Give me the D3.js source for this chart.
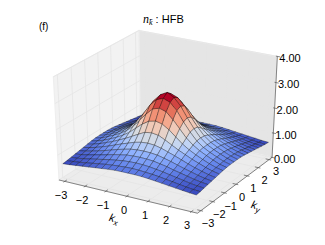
<!DOCTYPE html>
<html>
<head>
<meta charset="utf-8">
<script src="https://cdn.jsdelivr.net/npm/d3@7"></script>
<style>
body { margin: 0; background: #fff; }
text { font-family: "Liberation Sans", Arial, sans-serif; fill: #000; }
</style>
</head>
<body>
<div id="wrapper"></div>
<script>
// |k| from the centre outwards, the surface is mirrored in kx and ky
const kSteps = [0, 0.314, 0.628, 0.942, 1.257, 1.571, 1.885, 2.199, 2.513, 2.827, 3.142];
const row0 = [3.02, 2.88, 2.60, 2.20, 1.84, 1.53, 1.32, 1.18, 1.06, 0.95, 0.87];
const row1 = [2.88, 2.78, 2.52, 2.14, 1.80, 1.51, 1.31, 1.17, 1.05, 0.94, 0.87];
const row2 = [2.60, 2.52, 2.27, 1.97, 1.67, 1.45, 1.28, 1.15, 1.03, 0.92, 0.86];
const row3 = [2.20, 2.14, 1.97, 1.75, 1.53, 1.36, 1.22, 1.10, 0.99, 0.90, 0.84];
const row4 = [1.84, 1.80, 1.67, 1.53, 1.39, 1.27, 1.15, 1.05, 0.95, 0.87, 0.81];
const row5 = [1.53, 1.51, 1.45, 1.36, 1.27, 1.17, 1.07, 0.98, 0.90, 0.83, 0.78];
const row6 = [1.32, 1.31, 1.28, 1.22, 1.15, 1.07, 0.99, 0.92, 0.85, 0.79, 0.75];
const row7 = [1.18, 1.17, 1.15, 1.10, 1.05, 0.98, 0.92, 0.86, 0.80, 0.75, 0.72];
const row8 = [1.06, 1.05, 1.03, 0.99, 0.95, 0.90, 0.85, 0.80, 0.75, 0.71, 0.69];
const row9 = [0.95, 0.94, 0.92, 0.90, 0.87, 0.83, 0.79, 0.75, 0.71, 0.68, 0.66];
const row10 = [0.87, 0.87, 0.86, 0.84, 0.81, 0.78, 0.75, 0.72, 0.69, 0.66, 0.64];
const rows = [row0, row1, row2, row3, row4, row5, row6, row7, row8, row9, row10];

const kTicks = [-3, -2, -1, 0, 1, 2, 3];
const zTicks = [0, 1, 2, 3, 4];
const coolwarm = ["#3b4cc0", "#6282ea", "#8db0fe", "#c0d4f5", "#dddcdc", "#f5c4ad", "#f4987a", "#de604d", "#b40426"];

const width = 325;
const height = 245;

// Box coordinates 0..1 on each axis, the box is a bit wider than the surface
const kLimit = 3.28;
const x = d3.scaleLinear().domain([-kLimit, kLimit]).range([0, 1]);
const y = d3.scaleLinear().domain([-kLimit, kLimit]).range([0, 1]);
const z = d3.scaleLinear().domain([0, 4]).range([0, 1]);

// Same camera as mplot3d: elev 30, azim -60, dist 10
const elev = 30 * Math.PI / 180;
const azim = -60 * Math.PI / 180;
const dist = 10;
const w = [Math.cos(elev) * Math.cos(azim), Math.cos(elev) * Math.sin(azim), Math.sin(elev)];
const u = [-w[1], w[0], 0].map(d => d / Math.hypot(w[0], w[1]));
const v = [w[1] * u[2] - w[2] * u[1], w[2] * u[0] - w[0] * u[2], w[0] * u[1] - w[1] * u[0]];
const dot = (a, b) => a[0] * b[0] + a[1] * b[1] + a[2] * b[2];

const screenX = d3.scaleLinear().domain([-0.0677, 0.0656]).range([59, 272]);
const screenY = d3.scaleLinear().domain([-0.052, 0.0749]).range([180, 30.5]);

function depth(p) {
    return dist - dot(w, [p[0] - 0.5, p[1] - 0.5, p[2] - 0.5]);
}
function project(p) {
    const c = [p[0] - 0.5, p[1] - 0.5, p[2] - 0.5];
    const d = depth(p);
    return [screenX(dot(u, c) / d), screenY(dot(v, c) / d)];
}
const line3d = d3.line().x(p => project(p)[0]).y(p => project(p)[1]);

// Mirror the quadrant into the whole grid
const kValues = kSteps.slice(1).reverse().map(d => -d).concat(kSteps);
const indexOf = i => Math.abs(i - (kSteps.length - 1));
const zValue = (i, j) => rows[indexOf(i)][indexOf(j)];

const svg = d3.select("#wrapper").append("svg")
    .attr("width", width)
    .attr("height", height)
    .style("display", "block");

// Walls and floor
const panes = [
    { fill: "#f2f2f2", pts: [[0, 0, 0], [0, 1, 0], [0, 1, 1], [0, 0, 1]] },
    { fill: "#e5e5e5", pts: [[0, 1, 0], [1, 1, 0], [1, 1, 1], [0, 1, 1]] },
    { fill: "#ececec", pts: [[0, 0, 0], [1, 0, 0], [1, 1, 0], [0, 1, 0]] }
];
svg.append("g").selectAll("path")
    .data(panes)
    .join("path")
    .attr("d", d => line3d(d.pts) + "Z")
    .attr("fill", d => d.fill)
    .attr("stroke", "#eeeeee")
    .attr("stroke-width", 1.2);

// Grid lines on the panes
const gridLines = [];
kTicks.forEach(t => {
    gridLines.push([[x(t), 0, 0], [x(t), 1, 0], [x(t), 1, 1]]);
    gridLines.push([[1, y(t), 0], [0, y(t), 0], [0, y(t), 1]]);
});
zTicks.forEach(t => {
    gridLines.push([[0, 0, z(t)], [0, 1, z(t)], [1, 1, z(t)]]);
});
svg.append("g").selectAll("path")
    .data(gridLines)
    .join("path")
    .attr("d", line3d)
    .attr("fill", "none")
    .attr("stroke", "#e4e4e4")
    .attr("stroke-width", 0.8);

// Axis lines
const axisLines = [
    [[0, 0, 0], [1, 0, 0]],
    [[1, 0, 0], [1, 1, 0]],
    [[1, 1, 0], [1, 1, 1]]
];
kTicks.forEach(t => {
    axisLines.push([[x(t), 0.025, 0], [x(t), -0.015, 0]]);
    axisLines.push([[0.975, y(t), 0], [1.015, y(t), 0]]);
});
zTicks.forEach(t => {
    axisLines.push([[0.99, 1.0, z(t)], [1.02, 1.0, z(t)]]);
});
svg.append("g").selectAll("path")
    .data(axisLines)
    .join("path")
    .attr("d", line3d)
    .attr("fill", "none")
    .attr("stroke", "#555")
    .attr("stroke-width", 0.7);

// Surface cells, far ones first
const cells = [];
for (let i = 0; i < kValues.length - 1; i++) {
    for (let j = 0; j < kValues.length - 1; j++) {
        const corners = [[i, j], [i + 1, j], [i + 1, j + 1], [i, j + 1]];
        const pts = corners.map(c => [x(kValues[c[0]]), y(kValues[c[1]]), z(zValue(c[0], c[1]))]);
        cells.push({
            pts: pts,
            avg: d3.mean(corners, c => zValue(c[0], c[1])),
            depth: d3.mean(pts, depth)
        });
    }
}
cells.sort((a, b) => b.depth - a.depth);

const colorPos = d3.scaleLinear().domain(d3.extent(cells, d => d.avg)).range([0, 1]);
const colorMap = d3.scaleLinear().domain(coolwarm.map((c, i) => i / (coolwarm.length - 1))).range(coolwarm);

svg.append("g").selectAll("path")
    .data(cells)
    .join("path")
    .attr("d", d => line3d(d.pts) + "Z")
    .attr("fill", d => colorMap(colorPos(d.avg)))
    .attr("stroke", "#000")
    .attr("stroke-opacity", 0.7)
    .attr("stroke-width", 0.45)
    .attr("stroke-linejoin", "round");

// Tick labels
const labelFmt = t => String(t).replace("-", "\u2212");
const xLabelX = d3.scaleLinear().domain([-3, 3]).range([61, 187]);
const xLabelY = d3.scaleLinear().domain([-3, 3]).range([195, 225]);
const yLabelX = d3.scaleLinear().domain([-3, 3]).range([208, 276]);
const yLabelY = d3.scaleLinear().domain([-3, 3]).range([223, 171]);

svg.append("g").selectAll("text")
    .data(kTicks)
    .join("text")
    .attr("x", d => xLabelX(d))
    .attr("y", d => xLabelY(d))
    .attr("dy", "0.35em")
    .attr("text-anchor", "middle")
    .attr("font-size", 11)
    .text(labelFmt);

svg.append("g").selectAll("text")
    .data(kTicks)
    .join("text")
    .attr("x", d => yLabelX(d))
    .attr("y", d => yLabelY(d))
    .attr("dy", "0.35em")
    .attr("text-anchor", "middle")
    .attr("font-size", 11)
    .text(labelFmt);

svg.append("g").selectAll("text")
    .data(zTicks)
    .join("text")
    .attr("x", d => project([1, 1, z(d)])[0] + 2)
    .attr("y", d => project([1, 1, z(d)])[1] + 2)
    .attr("dy", "0.35em")
    .attr("font-size", 11)
    .text(d => d.toFixed(2));

// Axis names, title and panel letter
function mathLabel(px, py, rot, letter, sub) {
    const t = svg.append("text")
        .attr("transform", `translate(${px},${py}) rotate(${rot})`)
        .attr("font-family", "'DejaVu Serif', 'Liberation Serif', serif")
        .attr("font-style", "italic")
        .attr("font-size", 11)
        .attr("text-anchor", "middle");
    t.append("tspan").text(letter);
    t.append("tspan").attr("dy", 3).attr("font-size", 8).text(sub);
}
mathLabel(113, 222, 15, "k", "x");
mathLabel(255, 209, 15, "k", "y");

const title = svg.append("text")
    .attr("x", 143)
    .attr("y", 23)
    .attr("font-size", 11);
title.append("tspan")
    .attr("font-family", "'Liberation Serif', serif")
    .attr("font-style", "italic")
    .attr("font-size", 12)
    .text("n");
title.append("tspan")
    .attr("font-family", "'Liberation Serif', serif")
    .attr("font-style", "italic")
    .attr("font-size", 8)
    .attr("dy", 2)
    .text("k\u0304");
title.append("tspan")
    .attr("dy", -2)
    .text(" : HFB");

svg.append("text")
    .attr("x", 39)
    .attr("y", 30)
    .attr("font-size", 10)
    .text("(f)");
</script>
</body>
</html>
